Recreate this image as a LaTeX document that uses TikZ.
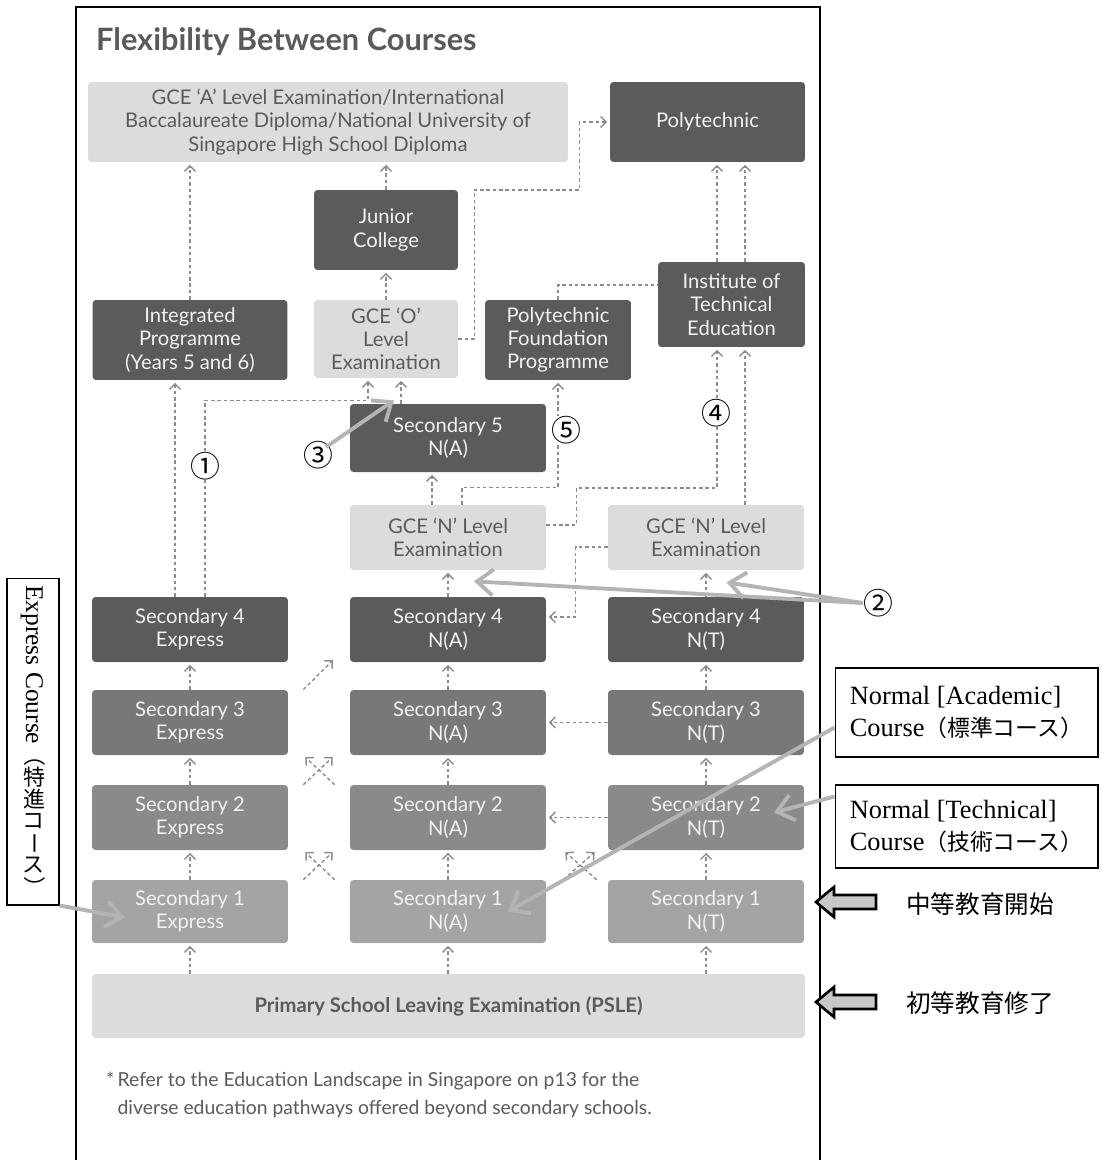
\documentclass[tikz,border=0pt]{standalone}
\usepackage{fontspec}
\usepackage{graphicx}
\setmainfont{Lato}
\newfontfamily\lserif{Liberation Serif}
\newfontfamily\cjk{Noto Sans CJK JP}
\usetikzlibrary{arrows.meta}
\definecolor{boxdark}{HTML}{5B5B5D}
\definecolor{boxthree}{HTML}{78787B}
\definecolor{boxtwo}{HTML}{8A8A8D}
\definecolor{boxone}{HTML}{A4A4A7}
\definecolor{boxlight}{HTML}{DCDCDE}
\definecolor{txtgray}{HTML}{5A5A5C}
\definecolor{linkgray}{HTML}{8C8C8E}
\definecolor{notegray}{HTML}{B4B4B7}
\definecolor{arrowfill}{HTML}{C8C8CA}
\newcommand{\uprt}[1]{\makebox[1em][c]{\rotatebox[origin=c]{90}{#1}}}

\begin{document}
\begin{tikzpicture}[x=0.02cm,y=-0.02cm]
\tikzstyle{box}=[rectangle, rounded corners=2pt, align=center, inner sep=1pt, font=\fontsize{11.5}{13.2}\selectfont]
\tikzstyle{boxdk}=[box, fill=boxdark, text=white!95!black]
\tikzstyle{boxy3}=[box, fill=boxthree, text=white!95!black]
\tikzstyle{boxy2}=[box, fill=boxtwo, text=white!95!black]
\tikzstyle{boxy1}=[box, fill=boxone, text=white!95!black]
\tikzstyle{boxlt}=[box, fill=boxlight, text=txtgray]
\tikzstyle{dline}=[draw=linkgray, line width=0.8pt, dash pattern=on 2pt off 1.6pt]
\tikzstyle{dlink}=[dline, -{Straight Barb[length=1.1mm,width=2.2mm]}, shorten >=1.5pt]
\tikzstyle{callout}=[draw=notegray, line width=2.2pt, -{Straight Barb[length=3.2mm,width=5.2mm]}]
\tikzstyle{cnum}=[rectangle, inner sep=0pt, fill=white, font=\cjk\fontsize{17}{17}\selectfont]
\tikzstyle{jnote}=[draw=black, line width=0.6pt, align=left, minimum width=5.26cm, font=\fontsize{15}{18.7}\selectfont]
\useasboundingbox (0,0) rectangle (1100,1160);

% frame
\draw[line width=1.1pt] (76,1160) -- (76,7) -- (820,7) -- (820,1160);
\node[anchor=west, text=txtgray, font=\bfseries\fontsize{17.5}{20}\selectfont] (title) at (90,42) {Flexibility Between Courses};

% upper boxes
\node[boxlt, minimum width=9.6cm, minimum height=1.6cm] (gceA) at (328,122) {GCE ‘A’ Level Examination/International\\Baccalaureate Diploma/National University of\\Singapore High School Diploma};
\node[boxdk, minimum width=3.9cm, minimum height=1.6cm] (poly) at (707.5,122) {Polytechnic};
\node[boxdk, minimum width=2.88cm, minimum height=1.6cm] (jc) at (386,230) {Junior\\College};
\node[boxdk, minimum width=3.9cm, minimum height=1.6cm] (ip) at (190,340) {Integrated\\Programme\\(Years 5 and 6)};
\node[boxlt, minimum width=2.88cm, minimum height=1.56cm] (gceO) at (386,339) {GCE ‘O’\\Level\\Examination};
\node[boxdk, minimum width=2.92cm, minimum height=1.6cm] (pfp) at (558,340) {Polytechnic\\Foundation\\Programme};
\node[boxdk, minimum width=2.94cm, minimum height=1.7cm] (ite) at (731.5,304.5) {Institute of\\Technical\\Education};
\node[boxdk, minimum width=3.92cm, minimum height=1.36cm] (sec5) at (448,438) {Secondary 5\\N(A)};
\node[boxlt, minimum width=3.92cm, minimum height=1.3cm] (gceNA) at (448,537.5) {GCE ‘N’ Level\\Examination};
\node[boxlt, minimum width=3.92cm, minimum height=1.3cm] (gceNT) at (706,537.5) {GCE ‘N’ Level\\Examination};

% secondary years
\foreach \c/\x/\lab in {e/190/Express, a/448/N(A), t/706/N(T)} {
  \node[boxdk, minimum width=3.92cm, minimum height=1.3cm] (\c4) at (\x,629.5) {Secondary 4\\\lab};
  \node[boxy3, minimum width=3.92cm, minimum height=1.3cm] (\c3) at (\x,722.5) {Secondary 3\\\lab};
  \node[boxy2, minimum width=3.92cm, minimum height=1.3cm] (\c2) at (\x,817.5) {Secondary 2\\\lab};
  \node[boxy1, minimum width=3.92cm, minimum height=1.26cm] (\c1) at (\x,911.5) {Secondary 1\\\lab};
}
\node[boxlt, minimum width=14.26cm, minimum height=1.28cm, font=\bfseries\fontsize{11.5}{13.2}\selectfont] (psle) at (448.5,1006) {Primary School Leaving Examination (PSLE)};

\node[anchor=north west, align=left, text=txtgray, font=\fontsize{11}{16}\selectfont] (foot) at (100,1066) {*\,Refer to the Education Landscape in Singapore on p13 for the\\\phantom{*\,}diverse education pathways offered beyond secondary schools.};

% dashed pathways
\foreach \c in {e,a,t} {
  \draw[dlink] (psle.north -| \c1.south) -- (\c1.south);
  \draw[dlink] (\c1.north) -- (\c2.south);
  \draw[dlink] (\c2.north) -- (\c3.south);
  \draw[dlink] (\c3.north) -- (\c4.south);
}
\draw[dlink] (a4.north) -- (gceNA.south);
\draw[dlink] (t4.north) -- (gceNT.south);
\draw[dlink] (t3.west) -- (a3.east);
\draw[dlink] (t2.west) -- (a2.east);
\draw[dlink] ([shift={(15,0)}]e3.north east) -- ([shift={(-15,-4)}]a4.south west);
\draw[dlink] ([shift={(15,0)}]e2.north east) -- ([shift={(-15,0)}]a3.south west);
\draw[dlink] ([shift={(-15,0)}]a2.north west) -- ([shift={(15,0)}]e3.south east);
\draw[dlink] ([shift={(15,0)}]e1.north east) -- ([shift={(-15,0)}]a2.south west);
\draw[dlink] ([shift={(-15,0)}]a1.north west) -- ([shift={(15,0)}]e2.south east);
\draw[dlink] ([shift={(17,0)}]a1.north east) -- ([shift={(-11,0)}]t2.south west);
\draw[dlink] ([shift={(-11,0)}]t1.north west) -- ([shift={(17,0)}]a2.south east);

\draw[dlink] ([shift={(-15,0)}]e4.north) -- ([shift={(-15,0)}]ip.south);
\draw[dlink] ([shift={(15,0)}]e4.north) |- ([shift={(-18,22)}]gceO.south) -- ([shift={(-18,0)}]gceO.south);
\draw[dlink] (ip.north) -- (ip.north |- gceA.south);
\draw[dlink] ([shift={(-47,0)}]sec5.north) -- ([shift={(15,0)}]gceO.south);
\draw[dlink] (gceO.north) -- (jc.south);
\draw[dlink] (jc.north) -- (jc.north |- gceA.south);
\draw[dlink] (gceO.east) -- ++(16,0) -- ++(0,-149) -- ++(105,0) |- (poly.west);
\draw[dline] (pfp.north) |- ([shift={(0,-19.5)}]ite.west);

\coordinate (itel) at ([shift={(-14.5,0)}]ite.north);
\coordinate (iter) at ([shift={(13.5,0)}]ite.north);
\draw[dlink] (itel) -- (itel |- poly.south);
\draw[dlink] (iter) -- (iter |- poly.south);
\draw[dlink] (iter |- gceNT.north) -- (iter |- ite.south);
\draw[dlink] ([shift={(0,-12.5)}]gceNA.east) -- ++(30,0) -- ++(0,-37) -| (itel |- ite.south);
\draw[dlink] ([shift={(0,9.5)}]gceNT.west) -- ++(-32,0) |- ([shift={(0,-12.5)}]a4.east);
\draw[dlink] ([shift={(-16,0)}]gceNA.north) -- ([shift={(-16,0)}]sec5.south);
\draw[dlink] ([shift={(14,0)}]gceNA.north) -- ++(0,-17) -| (pfp.south);

% circled numbers
\node[cnum] (c1) at (205,466) {①};
\node[cnum] (c2) at (878,603) {②};
\node[cnum] (c3) at (318,455) {③};
\node[cnum] (c4) at (716,413) {④};
\node[cnum] (c5) at (566,430) {⑤};

% side notes
\node[draw=black, line width=0.6pt, rotate=-90, minimum width=6.54cm, minimum height=1.04cm, inner sep=0pt] (expbox) at (33,741.5) {{\lserif\fontsize{14.5}{15}\selectfont Express Course}{\cjk\fontsize{12.5}{13}\selectfont （\uprt{特}\uprt{進}\uprt{コ}ー\uprt{ス}）}};
\node[jnote, minimum height=1.78cm] (acad) at (966.5,712.5) {{\lserif Normal [Academic]}\\{\lserif Course}{\cjk\fontsize{13}{18.7}\selectfont （標準コース）}};
\node[jnote, minimum height=1.66cm] (tech) at (966.5,826.5) {{\lserif Normal [Technical]}\\{\lserif Course}{\cjk\fontsize{13}{18.7}\selectfont （技術コース）}};
\node[anchor=west, font=\cjk\fontsize{14}{14}\selectfont] (jstart) at (900,904) {中等教育開始};
\node[anchor=west, font=\cjk\fontsize{14}{14}\selectfont] (jend) at (900,1003) {初等教育修了};
\foreach \y in {902,1002}
  \draw[line width=1.5pt, fill=arrowfill, line join=miter] (816,\y) -- (834,\y-15) -- (834,\y-7) -- (876,\y-7) -- (876,\y+7) -- (834,\y+7) -- (834,\y+15) -- cycle;

% callout arrows
\draw[callout] (expbox.north east) -- ([shift={(-65,6)}]e1.center);
\draw[callout] ([shift={(8,-8)}]c3.center) -- ([shift={(8,22)}]gceO.south);
\draw[callout] (c2.west) -- ([shift={(26,11)}]gceNA.south);
\draw[callout] (c2.west) -- ([shift={(20.5,12)}]gceNT.south);
\draw[callout] ([shift={(0,15)}]acad.west) -- ([shift={(60,0)}]a1.center);
\draw[callout] ([shift={(0,-30)}]tech.west) -- ([shift={(68,-5)}]t2.center);
\end{tikzpicture}
\end{document}
